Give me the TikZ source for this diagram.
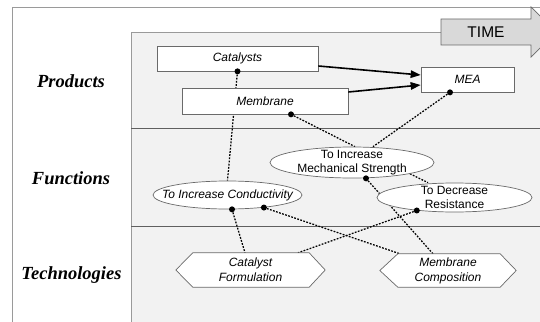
\documentclass[tikz,border=0pt]{standalone}
\usepackage{fontspec}
\setmainfont{Liberation Serif}
\newfontfamily\boxfont{Liberation Sans}
\usetikzlibrary{shapes.geometric,arrows.meta}
\pgfdeclarelayer{panel}
\pgfdeclarelayer{lines}
\pgfdeclarelayer{front}
\pgfsetlayers{panel,lines,main,front}
\definecolor{panelgray}{HTML}{F2F2F2}
\definecolor{framegray}{HTML}{9A9A9A}
\definecolor{rulegray}{HTML}{606060}
\definecolor{edgegray}{HTML}{6A6A6A}
\definecolor{timegray}{HTML}{D9D9D9}
\begin{document}
\begin{tikzpicture}[x=1pt,y=-1pt,
  box/.style={draw=edgegray, fill=white, line width=0.7pt, inner sep=0pt,
    font=\boxfont\itshape\fontsize{12}{14}\selectfont},
  oval/.style={ellipse, draw=edgegray, fill=white, line width=0.7pt,
    inner xsep=-20pt, inner ysep=-10pt, align=center,
    font=\boxfont\fontsize{12}{14}\selectfont},
  hexnode/.style={inner sep=0pt, align=center,
    font=\boxfont\itshape\fontsize{12}{15}\selectfont},
  hexline/.style={draw=edgegray, fill=white, line width=0.7pt},
  link/.style={line width=1.25pt, dash pattern=on 1.8pt off 1.4pt},
  flow/.style={line width=1.6pt, -{Triangle[length=10pt,width=7.5pt]}},
  dot/.style={circle, fill=black, inner sep=0pt, minimum size=6pt},
  rowlabel/.style={font=\bfseries\itshape\fontsize{18.5}{20}\selectfont},
  timearrow/.style={draw=edgegray, fill=timegray, line width=0.7pt},
]
\useasboundingbox (0,0) rectangle (540,321);

% frame and panel
\begin{pgfonlayer}{panel}
  \fill[panelgray] (131,32) rectangle (541,322);
  \draw[framegray, line width=0.9pt] (12,322) -- (12,7) -- (541,7);
  \draw[framegray, line width=0.9pt] (131,322) -- (131,32) -- (541,32);
  \draw[rulegray, line width=0.8pt] (131,128) -- (541,128);
  \draw[rulegray, line width=0.8pt] (131,226) -- (541,226);
\end{pgfonlayer}

% time arrow
\begin{scope}
  \clip (0,0) rectangle (540,321);
  \draw[timearrow] (441,19) -- (531,19) -- (531,7) -- (556,32) -- (531,57) -- (531,45) -- (441,45) -- cycle;
\end{scope}
\node[font=\boxfont\fontsize{15.5}{17}\selectfont] (time) at (486,32) {TIME};

% row labels
\node[rowlabel] (products) at (71,81) {Products};
\node[rowlabel] (functions) at (71,178) {Functions};
\node[rowlabel] (technologies) at (71.5,275) {Technologies};

% product boxes
\node[box, minimum width=161pt, minimum height=25pt] (cat) at (237.5,58.5) {Catalysts};
\node[box, minimum width=166pt, minimum height=26pt] (mem) at (265,101) {Membrane};
\node[box, minimum width=93pt, minimum height=25pt] (mea) at (467.5,79.5) {MEA};

% function ellipses
\node[oval, minimum width=164pt, minimum height=31pt] (mech) at (352,162.5) {To Increase\\Mechanical Strength};
\node[oval, minimum width=149pt, minimum height=28pt, font=\boxfont\itshape\fontsize{12}{14}\selectfont] (cond) at (227.5,195) {To Increase Conductivity};
\node[oval, minimum width=155pt, minimum height=29pt] (res) at (454.5,197.5) {To Decrease\\Resistance};

% technology hexagons (text nodes)
\node[hexnode, minimum width=149pt, minimum height=34pt] (catf) at (250.5,270) {Catalyst\\Formulation};
\node[hexnode, minimum width=136pt, minimum height=33pt] (memc) at (448,270.5) {Membrane\\Composition};

% connectors and hexagon outlines
\begin{pgfonlayer}{lines}
  \draw[link] (cat.south) -- (cond.north);
  \draw[link] ([xshift=26pt]mem.south) -- ([xshift=3pt]mech.north);
  \draw[link] ([xshift=-17.5pt]mea.south) -- ([xshift=21pt]mech.north);
  \draw[link] ([xshift=14pt]mech.south) -- ([xshift=-15pt]memc.north);
  \draw[link] (mech.-11) -- ([xshift=-26.5pt]res.north);
  \draw[link] ([xshift=4.5pt]cond.south) -- ([xshift=-5.5pt]catf.north);
  \draw[link] (cond.-19) -- ([xshift=-48pt]memc.north);
  \draw[link] (res.-161) -- ([xshift=47.5pt]catf.north);
  \draw[hexline] (catf.west) -- ([xshift=17pt]catf.north west) -- ([xshift=-16pt]catf.north east)
    -- (catf.east) -- ([xshift=-16pt]catf.south east) -- ([xshift=17pt]catf.south west) -- cycle;
  \draw[hexline] (memc.west) -- ([xshift=18pt]memc.north west) -- ([xshift=-16pt]memc.north east)
    -- (memc.east) -- ([xshift=-16pt]memc.south east) -- ([xshift=18pt]memc.south west) -- cycle;
\end{pgfonlayer}

% flow arrows
\draw[flow] ([yshift=-7.5pt]cat.east) -- ([yshift=4.5pt]mea.west);
\draw[flow] ([yshift=9pt]mem.east) -- ([yshift=-5.5pt]mea.west);

% connection dots
\begin{pgfonlayer}{front}
  \node[dot] (d1) at (cat.south) {};
  \node[dot] (d2) at ([xshift=26pt]mem.south) {};
  \node[dot] (d3) at ([xshift=-17.5pt]mea.south) {};
  \node[dot] (d4) at ([xshift=14pt]mech.south) {};
  \node[dot] (d5) at ([xshift=4.5pt]cond.south) {};
  \node[dot] (d6) at (cond.-19) {};
  \node[dot] (d7) at (res.-161) {};
\end{pgfonlayer}
\end{tikzpicture}
\end{document}
